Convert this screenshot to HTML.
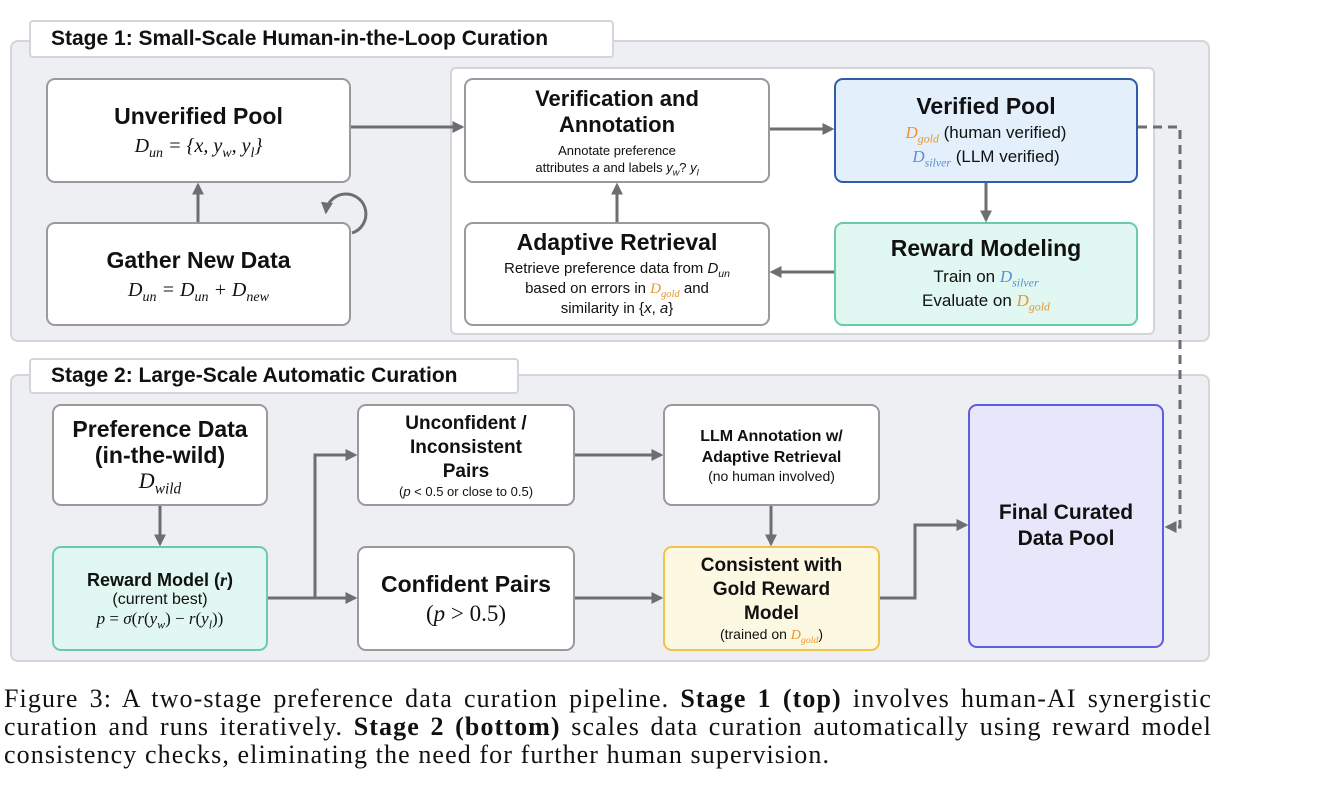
<!DOCTYPE html>
<html><head><meta charset="utf-8"><style>
*{box-sizing:border-box;margin:0;padding:0}
body{width:1324px;height:804px;background:#fff;position:relative;overflow:hidden;font-family:"Liberation Sans",Arial,sans-serif;color:#111}
.abs{position:absolute}
.panel{position:absolute;background:#eeeff2;border:2px solid #d3d5d9;border-radius:8px}
.tab{position:absolute;background:#fff;border:2px solid #d3d5d9;border-radius:4px;font-weight:bold;font-size:21px;padding-left:20px;line-height:34px}
.box{position:absolute;background:#fff;border:2.5px solid #9a9a9c;border-radius:9px;display:flex;flex-direction:column;align-items:center;justify-content:center;text-align:center}
.t{font-weight:bold;font-size:23px;line-height:26px}
.m{font-family:"Liberation Serif",serif;font-style:italic;font-size:20px}
.s{font-size:14px;line-height:20px}
.n{font-size:17px;line-height:24px}
.g{color:#e8962a;font-family:"Liberation Serif",serif;font-style:italic}
.b{color:#5b8fd6;font-family:"Liberation Serif",serif;font-style:italic}
sub{font-size:70%;line-height:0}
.cap{position:absolute;left:4px;top:685px;width:1208px;font-family:"Liberation Serif",serif;font-size:26px;line-height:28px;letter-spacing:1.1px}
.cap div{text-align:justify;text-align-last:justify;white-space:nowrap}
.cap div.l{text-align-last:left}
</style></head><body>
<div class="panel" style="left:10px;top:40px;width:1200px;height:302px"></div>
<div class="tab" style="left:29px;top:20px;width:585px;height:38px">Stage 1: Small-Scale Human-in-the-Loop Curation</div>
<div class="abs" style="left:450px;top:67px;width:705px;height:268px;background:#fff;border:2px solid #d3d5d9;border-radius:6px"></div>

<div class="panel" style="left:10px;top:374px;width:1200px;height:288px"></div>
<div class="tab" style="left:29px;top:358px;width:490px;height:36px;line-height:32px">Stage 2: Large-Scale Automatic Curation</div>

<div class="box" style="left:46px;top:78px;width:305px;height:105px"><div class="t">Unverified Pool</div><div class="m" style="margin-top:6px">D<sub>un</sub> = {x, y<sub>w</sub>, y<sub>l</sub>}</div></div>
<div class="box" style="left:46px;top:222px;width:305px;height:104px"><div class="t">Gather New Data</div><div class="m" style="margin-top:6px">D<sub>un</sub> = D<sub>un</sub> + D<sub>new</sub></div></div>
<div class="box" style="left:464px;top:78px;width:306px;height:105px"><div class="t" style="font-size:22px;line-height:26px">Verification and<br>Annotation</div><div class="s" style="margin-top:4px;font-size:13px;line-height:17px">Annotate preference<br>attributes <i>a</i> and labels <i>y<sub>w</sub></i>? <i>y<sub>l</sub></i></div></div>
<div class="box" style="left:834px;top:78px;width:304px;height:105px;background:#e4effc;border-color:#2f5ca8"><div class="t">Verified Pool</div><div class="n" style="margin-top:2px"><span class="g">D<sub>gold</sub></span> (human verified)<br><span class="b">D<sub>silver</sub></span> (LLM verified)</div></div>
<div class="box" style="left:464px;top:222px;width:306px;height:104px"><div class="t">Adaptive Retrieval</div><div class="s" style="font-size:15px;line-height:20px;margin-top:4px">Retrieve preference data from <i>D<sub>un</sub></i><br>based on errors in <span class="g">D<sub>gold</sub></span> and<br>similarity in {<i>x</i>, <i>a</i>}</div></div>
<div class="box" style="left:834px;top:222px;width:304px;height:104px;background:#e0f8f1;border-color:#6ccaa9"><div class="t">Reward Modeling</div><div class="n" style="margin-top:4px">Train on <span class="b">D<sub>silver</sub></span><br>Evaluate on <span class="g">D<sub>gold</sub></span></div></div>

<div class="box" style="left:52px;top:404px;width:216px;height:102px"><div class="t">Preference Data<br>(in-the-wild)</div><div class="m" style="font-size:22px">D<sub>wild</sub></div></div>
<div class="box" style="left:52px;top:546px;width:216px;height:105px;background:#e0f8f1;border-color:#6ccaa9"><div class="t" style="font-size:18px;line-height:22px">Reward Model (<i style="font-family:'Liberation Serif',serif">r</i>)</div><div style="font-size:16px;line-height:18px">(current best)</div><div class="m" style="font-size:17px;font-style:normal"><i>p</i> = <i>σ</i>(<i>r</i>(<i>y<sub>w</sub></i>) − <i>r</i>(<i>y<sub>l</sub></i>))</div></div>
<div class="box" style="left:357px;top:404px;width:218px;height:102px"><div class="t" style="font-size:19px;line-height:24px">Unconfident /<br>Inconsistent<br>Pairs</div><div style="font-size:13px">(<i>p</i> &lt; 0.5 or close to 0.5)</div></div>
<div class="box" style="left:357px;top:546px;width:218px;height:105px"><div class="t">Confident Pairs</div><div style="font-family:'Liberation Serif',serif;font-size:23px;margin-top:4px">(<i>p</i> &gt; 0.5)</div></div>
<div class="box" style="left:663px;top:404px;width:217px;height:102px"><div class="t" style="font-size:16px;line-height:21px">LLM Annotation w/<br>Adaptive Retrieval</div><div style="font-size:14px">(no human involved)</div></div>
<div class="box" style="left:663px;top:546px;width:217px;height:105px;background:#fdf8e2;border-color:#f1c24c"><div class="t" style="font-size:19px;line-height:24px">Consistent with<br>Gold Reward<br>Model</div><div style="font-size:14px">(trained on <span class="g">D<sub>gold</sub></span>)</div></div>
<div class="box" style="left:968px;top:404px;width:196px;height:244px;background:#e7e6fb;border-color:#5d5fe0"><div class="t" style="font-size:21px">Final Curated<br>Data Pool</div></div>

<svg class="abs" style="left:0;top:0" width="1324" height="804">
<defs><marker id="a" markerWidth="4" markerHeight="4" refX="3.2" refY="2" orient="auto" markerUnits="strokeWidth"><path d="M0,0 L4,2 L0,4 z" fill="#6c6e72"/></marker></defs>
<g stroke="#6c6e72" stroke-width="3" fill="none">
<path d="M351,127 H462" marker-end="url(#a)"/>
<path d="M770,129 H832" marker-end="url(#a)"/>
<path d="M986,183 V220" marker-end="url(#a)"/>
<path d="M834,272 H772" marker-end="url(#a)"/>
<path d="M617,222 V185" marker-end="url(#a)"/>
<path d="M198,222 V185" marker-end="url(#a)"/>
<path d="M1138,127 H1180 V527 H1167" stroke-dasharray="9,6" marker-end="url(#a)"/>
<path d="M352,233 A20,20 0 1 0 326,212" marker-end="url(#a)"/>
<path d="M160,506 V544" marker-end="url(#a)"/>
<path d="M268,598 H355" marker-end="url(#a)"/>
<path d="M315,598 V455 H355" marker-end="url(#a)"/>
<path d="M575,455 H661" marker-end="url(#a)"/>
<path d="M575,598 H661" marker-end="url(#a)"/>
<path d="M771,506 V544" marker-end="url(#a)"/>
<path d="M880,598 H915 V525 H966" marker-end="url(#a)"/>
</g></svg>

<div class="cap">
<div>Figure 3: A two-stage preference data curation pipeline. <b>Stage 1 (top)</b> involves human-AI synergistic</div>
<div>curation and runs iteratively. <b>Stage 2 (bottom)</b> scales data curation automatically using reward model</div>
<div class="l">consistency checks, eliminating the need for further human supervision.</div>
</div>
</body></html>
